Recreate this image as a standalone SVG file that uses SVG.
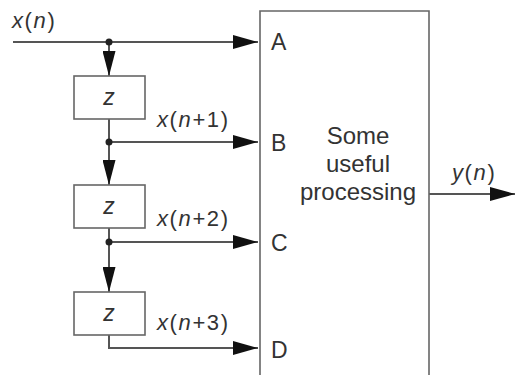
<svg xmlns="http://www.w3.org/2000/svg" width="515" height="375" viewBox="0 0 515 375">
<style>
  text { font-family: "Liberation Sans", Arial, sans-serif; fill: #333; }
  .lbl { font-size: 22px; letter-spacing: 1.6px; }
  .port { font-size: 23px; }
  .main { font-size: 24px; text-anchor: middle; }
  .z { font-size: 23px; font-style: italic; text-anchor: middle; }
  .i { font-style: italic; }
  .wire { stroke: #555; stroke-width: 2; fill: none; }
  .box { stroke: #666; stroke-width: 1.6; fill: #fff; }
  .dot { fill: #222; }
</style>
<defs>
  <marker id="ah" markerUnits="userSpaceOnUse" markerWidth="26" markerHeight="14" refX="25" refY="7" orient="auto" viewBox="0 0 26 14">
    <path d="M0,0 L25,7 L0,14 Z" fill="#111"/>
  </marker>
  <marker id="av" markerUnits="userSpaceOnUse" markerWidth="26" markerHeight="13" refX="25" refY="6.5" orient="auto" viewBox="0 0 26 13">
    <path d="M0,0 L25,6.5 L0,13 Z" fill="#111"/>
  </marker>
</defs>
<g id="connectors">
  <line class="wire" x1="13" y1="42" x2="258" y2="42" marker-end="url(#ah)"/>
  <line class="wire" x1="109" y1="42" x2="109" y2="76" marker-end="url(#av)"/>
  <line class="wire" x1="109" y1="119" x2="109" y2="185" marker-end="url(#av)"/>
  <line class="wire" x1="109" y1="142" x2="258" y2="142" marker-end="url(#ah)"/>
  <line class="wire" x1="109" y1="228" x2="109" y2="292" marker-end="url(#av)"/>
  <line class="wire" x1="109" y1="242" x2="258" y2="242" marker-end="url(#ah)"/>
  <path class="wire" d="M109,335 V348 H258" marker-end="url(#ah)"/>
  <line class="wire" x1="429" y1="194" x2="515" y2="194" marker-end="url(#ah)"/>
  <circle class="dot" cx="109" cy="42" r="3.5"/>
  <circle class="dot" cx="109" cy="142" r="3.5"/>
  <circle class="dot" cx="109" cy="242" r="3.5"/>
  <text class="lbl" x="12" y="28"><tspan class="i">x</tspan>(<tspan class="i">n</tspan>)</text>
  <text class="lbl" x="157" y="127"><tspan class="i">x</tspan>(<tspan class="i">n</tspan>+1)</text>
  <text class="lbl" x="157" y="226"><tspan class="i">x</tspan>(<tspan class="i">n</tspan>+2)</text>
  <text class="lbl" x="157" y="330"><tspan class="i">x</tspan>(<tspan class="i">n</tspan>+3)</text>
  <text class="lbl" x="452" y="180"><tspan class="i">y</tspan>(<tspan class="i">n</tspan>)</text>
</g>
<g id="delay1">
  <rect class="box" x="74" y="76" width="71" height="43"/>
  <text class="z" x="109" y="105">z</text>
</g>
<g id="delay2">
  <rect class="box" x="74" y="185" width="71" height="43"/>
  <text class="z" x="109" y="214">z</text>
</g>
<g id="delay3">
  <rect class="box" x="74" y="292" width="71" height="43"/>
  <text class="z" x="109" y="321">z</text>
</g>
<g id="processor">
  <path class="box" d="M260,380 V11 H429 V380"/>
  <text class="port" x="271" y="50">A</text>
  <text class="port" x="271" y="151">B</text>
  <text class="port" x="271" y="251">C</text>
  <text class="port" x="271" y="358">D</text>
  <text class="main" x="358" y="144">Some</text>
  <text class="main" x="358" y="172">useful</text>
  <text class="main" x="358" y="200">processing</text>
</g>
</svg>
